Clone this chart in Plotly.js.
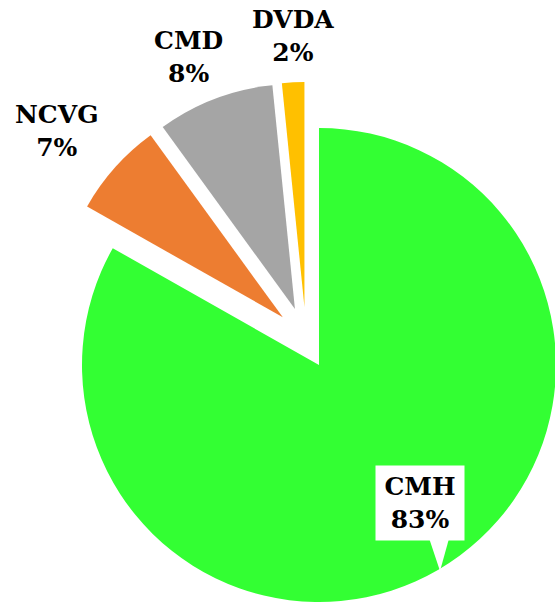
<!DOCTYPE html>
<html>
<head>
<meta charset="utf-8">
<script src="https://cdn.plot.ly/plotly-3.0.1.min.js"></script>
<style>
html,body{margin:0;padding:0;overflow:hidden;background:#fff;}
#chart{width:600px;height:606px;}
</style>
</head>
<body>
<div id="chart"></div>
<script>
// ---- data ----
const labels = ['CMH', 'NCVG', 'CMD', 'DVDA'];
const values = [83.2, 6.8, 8.4, 1.6];
const colors = ['#33FF33', '#ED7D31', '#A5A5A5', '#FFC000'];

// ---- layout helpers ----
const W = 600, H = 606;
const px = x => x / W;
const py = y => 1 - y / H;
const total = values.reduce((a, b) => a + b, 0);
const pctText = i => Math.round(values[i] / total * 100) + '%';
const clear = 'rgba(0,0,0,0)';

// main (green) slice, not exploded
const traceMain = {
  type: 'pie',
  labels: labels,
  values: values,
  sort: false,
  direction: 'clockwise',
  rotation: 0,
  marker: { colors: colors.map((c, i) => i === 0 ? c : clear), line: { width: 0 } },
  textinfo: 'none',
  hoverinfo: 'none',
  domain: { x: [px(82), px(556)], y: [py(603), py(127)] },
  showlegend: false
};

// exploded small slices
const traceSmall = {
  type: 'pie',
  labels: labels,
  values: values,
  sort: false,
  direction: 'clockwise',
  rotation: 0,
  pull: values.map(() => 0.138),
  marker: { colors: colors.map((c, i) => i === 0 ? clear : c), line: { width: 0 } },
  textinfo: 'none',
  hoverinfo: 'none',
  domain: { x: [px(50), px(562)], y: [py(594), py(82)] },
  showlegend: false
};

const font = { family: 'DejaVu Serif, serif', size: 25, color: '#000000' };
const labelPos = [
  { x: 420, y: 503 },
  { x: 57, y: 131 },
  { x: 188, y: 57 },
  { x: 293, y: 36 }
];
const annotations = labels.map((l, i) => {
  const a = {
    xref: 'paper', yref: 'paper',
    x: px(labelPos[i].x), y: py(labelPos[i].y),
    xanchor: 'center', yanchor: 'middle',
    text: '<b>' + l + '<br>' + pctText(i) + '</b>',
    showarrow: false,
    font: font,
    align: 'center'
  };
  if (i === 0) {
    a.bgcolor = '#FFFFFF';
    a.width = 88;
    a.height = 74;
    a.borderpad = 0;
    a.valign = 'middle';
  }
  return a;
});

const layout = {
  width: W, height: H,
  margin: { l: 0, r: 0, t: 0, b: 0 },
  paper_bgcolor: '#FFFFFF',
  showlegend: false,
  annotations: annotations,
  shapes: [{
    type: 'path', xref: 'paper', yref: 'paper',
    path: 'M ' + px(428) + ',' + py(535) + ' L ' + px(450) + ',' + py(535) + ' L ' + px(440) + ',' + py(571) + ' Z',
    fillcolor: '#FFFFFF', line: { width: 0 }, layer: 'above'
  }]
};

Plotly.newPlot('chart', [traceMain, traceSmall], layout, { displayModeBar: false, staticPlot: true });
</script>
</body>
</html>
